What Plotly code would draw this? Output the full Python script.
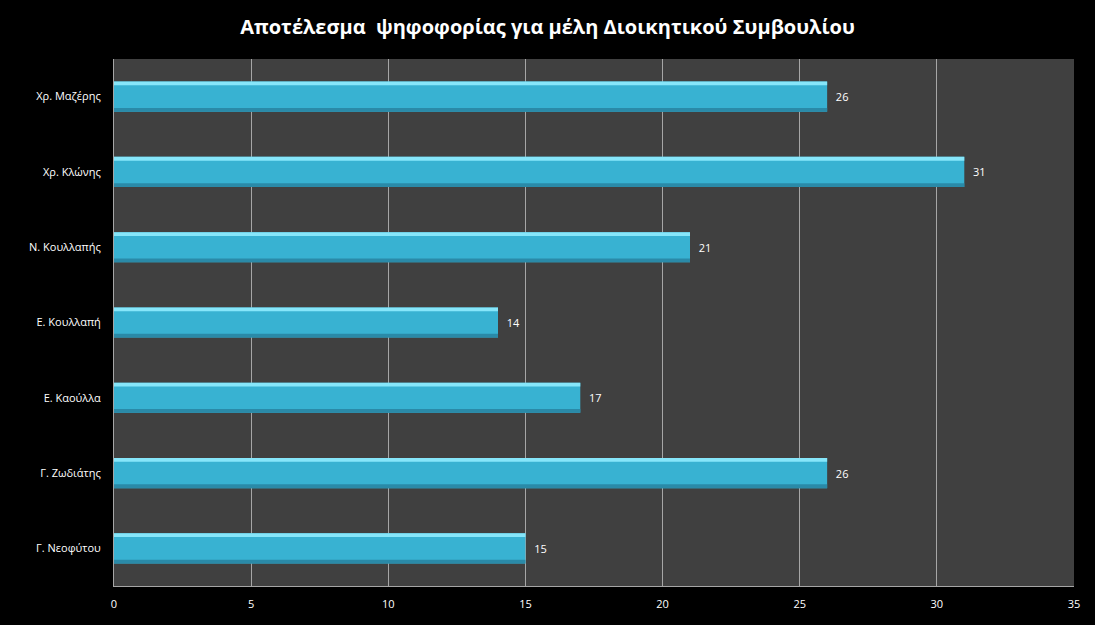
import plotly.graph_objects as go

names = ["Χρ. Μαζέρης", "Χρ. Κλώνης", "Ν. Κουλλαπής", "Ε. Κουλλαπή", "Ε. Καούλλα", "Γ. Ζωδιάτης", "Γ. Νεοφύτου"]
votes = [26, 31, 21, 14, 17, 26, 15]
x_ticks = [0, 5, 10, 15, 20, 25, 30, 35]
title_text = "Αποτέλεσμα  ψηφοφορίας για μέλη Διοικητικού Συμβουλίου"

FONT = "Open Sans"
fig = go.Figure()
# main bar
fig.add_trace(go.Bar(
    y=names, x=votes, orientation="h", width=0.4,
    marker=dict(color="#38b2d2", line=dict(width=0)),
    text=votes, texttemplate="  %{x}", textposition="outside",
    textfont=dict(color="white", size=11, family=FONT),
    cliponaxis=False, hoverinfo="x+y",
))
# top highlight band
fig.add_trace(go.Bar(
    y=names, x=votes, orientation="h", width=0.05, offset=-0.2,
    marker=dict(color="#86e6fa", line=dict(width=0)), hoverinfo="skip",
))
# bottom shade band
fig.add_trace(go.Bar(
    y=names, x=votes, orientation="h", width=0.05, offset=0.15,
    marker=dict(color="#2a8aa8", line=dict(width=0)), hoverinfo="skip",
))

fig.update_layout(
    width=1095, height=625,
    paper_bgcolor="black", plot_bgcolor="#404040",
    barmode="overlay", showlegend=False,
    margin=dict(l=114, r=21, t=59, b=39),
    title=dict(text="<b>" + title_text + "</b>", x=0.5, xanchor="center",
               y=0.957, yanchor="middle",
               font=dict(family=FONT, size=20, color="white")),
    font=dict(family=FONT, color="white", size=11),
)
fig.update_xaxes(range=[0, 35], tickvals=x_ticks, showgrid=True,
                 gridcolor="#a6a6a6", gridwidth=1, zeroline=False,
                 showline=True, linecolor="#a6a6a6", linewidth=1,
                 ticks="", ticklabelstandoff=8,
                 tickfont=dict(color="white", size=11, family=FONT))
fig.update_yaxes(autorange="reversed", showgrid=False, showline=True,
                 linecolor="#a6a6a6", linewidth=1, ticks="", ticklen=0,
                 ticklabelstandoff=10,
                 tickfont=dict(color="white", size=11, family=FONT))

fig.write_html("out.html", config={"displayModeBar": False},
               post_script="document.body.style.margin='0';document.body.style.background='black';")
